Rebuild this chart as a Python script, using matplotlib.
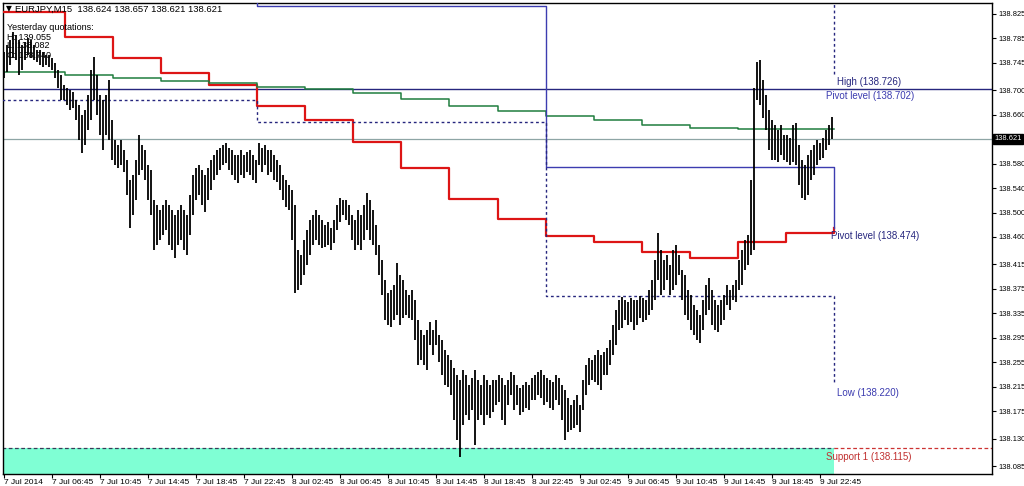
import numpy as np
import matplotlib.pyplot as plt
import matplotlib.transforms as mtransforms

plt.rcParams['font.family'] = ['Liberation Sans', 'DejaVu Sans']

# M15 bars, first one 7 Jul 02:45
highs = [
    138.763, 138.774, 138.783, 138.796, 138.791, 138.783, 138.774, 138.779, 138.786, 138.783,
    138.774, 138.766, 138.766, 138.763, 138.758, 138.758, 138.753, 138.745, 138.733, 138.725,
    138.709, 138.704, 138.701, 138.697, 138.684, 138.676, 138.660, 138.668, 138.692, 138.733,
    138.755, 138.725, 138.692, 138.684, 138.692, 138.717, 138.651, 138.619, 138.611, 138.619,
    138.602, 138.586, 138.553, 138.561, 138.586, 138.627, 138.611, 138.602, 138.578, 138.570,
    138.521, 138.512, 138.504, 138.512, 138.521, 138.512, 138.504, 138.496, 138.504, 138.512,
    138.504, 138.496, 138.529, 138.561, 138.573, 138.578, 138.570, 138.561, 138.573, 138.586,
    138.594, 138.602, 138.606, 138.611, 138.614, 138.606, 138.602, 138.594, 138.594, 138.602,
    138.594, 138.599, 138.602, 138.594, 138.586, 138.614, 138.606, 138.611, 138.602, 138.602,
    138.594, 138.586, 138.578, 138.561, 138.553, 138.545, 138.537, 138.512, 138.439, 138.431,
    138.455, 138.471, 138.488, 138.496, 138.504, 138.496, 138.488, 138.480, 138.485, 138.475,
    138.488, 138.512, 138.524, 138.521, 138.521, 138.512, 138.496, 138.488, 138.504, 138.496,
    138.512, 138.532, 138.521, 138.504, 138.480, 138.447, 138.422, 138.390, 138.368, 138.373,
    138.381, 138.417, 138.398, 138.390, 138.373, 138.365, 138.373, 138.357, 138.324, 138.308,
    138.300, 138.308, 138.321, 138.308, 138.324, 138.300, 138.291, 138.275, 138.267, 138.259,
    138.246, 138.234, 138.226, 138.242, 138.234, 138.218, 138.229, 138.242, 138.226, 138.218,
    138.234, 138.226, 138.218, 138.226, 138.226, 138.234, 138.229, 138.218, 138.226, 138.239,
    138.234, 138.218, 138.213, 138.218, 138.223, 138.218, 138.229, 138.234, 138.239, 138.242,
    138.234, 138.229, 138.226, 138.223, 138.234, 138.229, 138.218, 138.209, 138.196, 138.185,
    138.193, 138.201, 138.185, 138.226, 138.250, 138.262, 138.259, 138.267, 138.275, 138.267,
    138.272, 138.278, 138.291, 138.316, 138.340, 138.357, 138.362, 138.357, 138.354, 138.360,
    138.357, 138.357, 138.363, 138.360, 138.357, 138.373, 138.390, 138.422, 138.467, 138.439,
    138.422, 138.431, 138.414, 138.439, 138.447, 138.431, 138.406, 138.398, 138.373, 138.365,
    138.349, 138.340, 138.332, 138.357, 138.381, 138.393, 138.373, 138.357, 138.349, 138.357,
    138.365, 138.381, 138.373, 138.381, 138.390, 138.422, 138.439, 138.455, 138.463, 138.553,
    138.704, 138.746, 138.750, 138.717, 138.692, 138.668, 138.651, 138.643, 138.635, 138.643,
    138.627, 138.627, 138.622, 138.643, 138.647, 138.611, 138.586, 138.578, 138.594, 138.602,
    138.611, 138.619, 138.614, 138.622, 138.635, 138.643, 138.657,
]
lows = [
    138.720, 138.730, 138.742, 138.753, 138.750, 138.725, 138.733, 138.750, 138.758, 138.753,
    138.750, 138.746, 138.742, 138.738, 138.742, 138.738, 138.733, 138.720, 138.704, 138.684,
    138.684, 138.676, 138.668, 138.671, 138.651, 138.619, 138.598, 138.611, 138.635, 138.651,
    138.684, 138.660, 138.627, 138.602, 138.627, 138.619, 138.586, 138.578, 138.573, 138.578,
    138.566, 138.529, 138.475, 138.496, 138.521, 138.561, 138.570, 138.553, 138.521, 138.496,
    138.439, 138.447, 138.455, 138.463, 138.471, 138.447, 138.439, 138.426, 138.447, 138.455,
    138.439, 138.431, 138.463, 138.496, 138.521, 138.529, 138.512, 138.501, 138.521, 138.537,
    138.553, 138.561, 138.570, 138.578, 138.581, 138.570, 138.561, 138.553, 138.548, 138.561,
    138.557, 138.566, 138.561, 138.553, 138.548, 138.578, 138.566, 138.578, 138.561, 138.566,
    138.553, 138.550, 138.537, 138.521, 138.509, 138.504, 138.455, 138.368, 138.373, 138.381,
    138.398, 138.414, 138.431, 138.447, 138.455, 138.447, 138.442, 138.444, 138.447, 138.439,
    138.450, 138.471, 138.485, 138.496, 138.488, 138.480, 138.455, 138.439, 138.447, 138.439,
    138.455, 138.471, 138.455, 138.447, 138.431, 138.398, 138.365, 138.324, 138.316, 138.313,
    138.324, 138.332, 138.316, 138.327, 138.332, 138.327, 138.324, 138.291, 138.250, 138.259,
    138.250, 138.242, 138.283, 138.267, 138.283, 138.255, 138.234, 138.218, 138.214, 138.201,
    138.160, 138.128, 138.100, 138.152, 138.169, 138.160, 138.177, 138.119, 138.160, 138.169,
    138.152, 138.169, 138.164, 138.173, 138.185, 138.190, 138.160, 138.152, 138.185, 138.201,
    138.177, 138.185, 138.169, 138.173, 138.180, 138.177, 138.193, 138.193, 138.201, 138.196,
    138.185, 138.190, 138.180, 138.177, 138.193, 138.185, 138.160, 138.128, 138.141, 138.144,
    138.147, 138.152, 138.141, 138.177, 138.201, 138.218, 138.226, 138.223, 138.218, 138.209,
    138.234, 138.234, 138.250, 138.267, 138.283, 138.308, 138.311, 138.324, 138.316, 138.321,
    138.308, 138.316, 138.327, 138.321, 138.324, 138.332, 138.340, 138.357, 138.390, 138.365,
    138.373, 138.390, 138.365, 138.373, 138.381, 138.398, 138.357, 138.332, 138.324, 138.308,
    138.300, 138.291, 138.286, 138.308, 138.332, 138.340, 138.316, 138.308, 138.304, 138.316,
    138.324, 138.349, 138.340, 138.357, 138.354, 138.373, 138.381, 138.406, 138.414, 138.431,
    138.439, 138.684, 138.676, 138.655, 138.635, 138.602, 138.586, 138.586, 138.583, 138.594,
    138.586, 138.583, 138.578, 138.583, 138.578, 138.545, 138.524, 138.521, 138.529, 138.553,
    138.561, 138.578, 138.586, 138.589, 138.602, 138.611, 138.621,
]

# H4 step lines (first bar index of each 4h block)
h4_start = [0, 21, 37, 53, 69, 85, 101, 117, 133, 149, 165, 181, 197, 213, 229, 245, 261]
red_h4 = [138.828, 138.787, 138.753, 138.728, 138.709, 138.674, 138.651, 138.616, 138.573,
          138.522, 138.489, 138.462, 138.452, 138.436, 138.426, 138.452, 138.467]
green_h4 = [138.730, 138.725, 138.720, 138.715, 138.712, 138.706, 138.702, 138.696, 138.686,
            138.674, 138.666, 138.658, 138.651, 138.643, 138.638, 138.637, 138.636]

# daily levels (7, 8, 9 Jul) and today's value
day_start = [0, 85, 181]
day_high = [138.95, 138.95, 138.95]
day_mid = [138.95, 138.838, 138.575]
day_low = [138.684, 138.648, 138.363]
high_today = 138.726
pivot_today = 138.702
pivot_low = 138.474
low_today = 138.220
support1 = 138.115
bid = 138.621

ohlc_text = "EURJPY,M15  138.624 138.657 138.621 138.621"
yest_lines = ["Yesterday quotations:", "H: 139.055", "L: 138.082", "C: 138.740"]

yticks = [138.825, 138.785, 138.745, 138.700, 138.660, 138.580, 138.540, 138.500, 138.460,
          138.415, 138.375, 138.335, 138.295, 138.255, 138.215, 138.175, 138.130, 138.085]
xtick_pos = [0, 16, 32, 48, 64, 80, 96, 112, 128, 144, 160, 176, 192, 208, 224, 240, 256, 272]
xtick_lab = ["7 Jul 2014", "7 Jul 06:45", "7 Jul 10:45", "7 Jul 14:45", "7 Jul 18:45",
             "7 Jul 22:45", "8 Jul 02:45", "8 Jul 06:45", "8 Jul 10:45", "8 Jul 14:45",
             "8 Jul 18:45", "8 Jul 22:45", "9 Jul 02:45", "9 Jul 06:45", "9 Jul 10:45",
             "9 Jul 14:45", "9 Jul 18:45", "9 Jul 22:45"]

NAVY = '#26267e'
BLUE = '#3c3cb0'
RED = '#dd1515'
GREEN = '#1f7d3e'

n = len(highs)
idx = np.arange(n)

fig = plt.figure(figsize=(10.24, 4.86), dpi=100)
ax = fig.add_axes([3 / 1024, 12 / 486, 989 / 1024, 471 / 486])
ax.set_xlim(-0.33, 329.33)
ax.set_ylim(138.072, 138.843)

# support zone
ax.axhspan(138.0, support1, xmin=0, xmax=(n - 0.5 + 0.33) / 329.66, color='#7fffd4', lw=0, zorder=1)
ax.hlines(support1, -0.5, n - 0.5, colors='#3a3a5a', linestyles=(0, (3, 2)), lw=0.9, zorder=2)
ax.hlines(support1, n - 0.5, 330, colors='#cc3333', linestyles=(0, (3, 2)), lw=0.9, zorder=2)

ax.axhline(pivot_today, color=NAVY, lw=1.0, zorder=2)
ax.axhline(bid, color='#8ea5a5', lw=0.9, zorder=2)

# H4 lines
e = np.array(h4_start + [n]) - 0.5
ax.step(e, red_h4 + [pivot_low], where='post', color=RED, lw=1.6, zorder=3)
ax.step(e, green_h4 + [green_h4[-1]], where='post', color=GREEN, lw=1.1, zorder=3)

# daily lines
d = np.array(day_start + [n]) - 0.5
ax.step(d, day_mid + [pivot_low], where='post', color=BLUE, lw=1.0, zorder=3)
ax.step(d, day_low + [low_today], where='post', color=NAVY, lw=1.0, ls=(0, (2, 2)), zorder=3)
ax.step(d, day_high + [high_today], where='post', color=NAVY, lw=1.0, ls=(0, (2, 2)), zorder=3)

# price bars
ax.vlines(idx, lows, highs, colors='black', lw=1.3, zorder=4)

# level labels
lab = dict(fontsize=7, va='top', ha='left', zorder=5)
ax.annotate("High (%.3f)" % high_today, (n + 0.5, high_today), xytext=(0, -1.5),
            textcoords='offset points', color=NAVY, **lab)
ax.annotate("Pivot level (%.3f)" % pivot_today, (n - 3, pivot_today), xytext=(0, -1.5),
            textcoords='offset points', color=BLUE, **lab)
ax.annotate("Pivot level (%.3f)" % pivot_low, (n - 1.5, pivot_low), xytext=(0, -1.5),
            textcoords='offset points', color=NAVY, **lab)
ax.annotate("Low (%.3f)" % low_today, (n + 0.5, low_today), xytext=(0, -3),
            textcoords='offset points', color=BLUE, **lab)
ax.annotate("Support 1 (%.3f)" % support1, (n - 3, support1), xytext=(0, -3),
            textcoords='offset points', color='#c03030', **lab)

# axes styling
for s in ax.spines.values():
    s.set_color('black')
    s.set_linewidth(1.0)
ax.yaxis.tick_right()
ax.set_yticks(yticks)
ax.set_yticklabels(["%.3f" % v for v in yticks])
ax.tick_params(axis='y', direction='out', length=3, width=0.8, labelsize=5.4, pad=1.5, colors='black')
ax.set_xticks(xtick_pos)
ax.set_xticklabels(xtick_lab, ha='left')
ax.tick_params(axis='x', direction='out', length=3, width=0.8, labelsize=6.0, pad=0.5, colors='black')

tr = mtransforms.blended_transform_factory(ax.transAxes, ax.transData)
ax.text(1.002, bid, "%.3f" % bid, transform=tr, fontsize=5.4, color='white', va='center',
        ha='left', bbox=dict(fc='black', ec='black', pad=1.0), zorder=6, clip_on=False)

# header texts
fig.text(6 / 1024, 1 - 9 / 486, "\u25bc", fontsize=5.5, va='center', ha='left',
         family=['DejaVu Sans'])
fig.text(15 / 1024, 1 - 9 / 486, ohlc_text, fontsize=6.8, va='center', ha='left')
for k, t in enumerate(yest_lines):
    fig.text(7 / 1024, 1 - (28 + 9 * k) / 486, t, fontsize=6.5, va='center', ha='left', zorder=0)

fig.savefig('out.png', dpi=100, facecolor='white')
